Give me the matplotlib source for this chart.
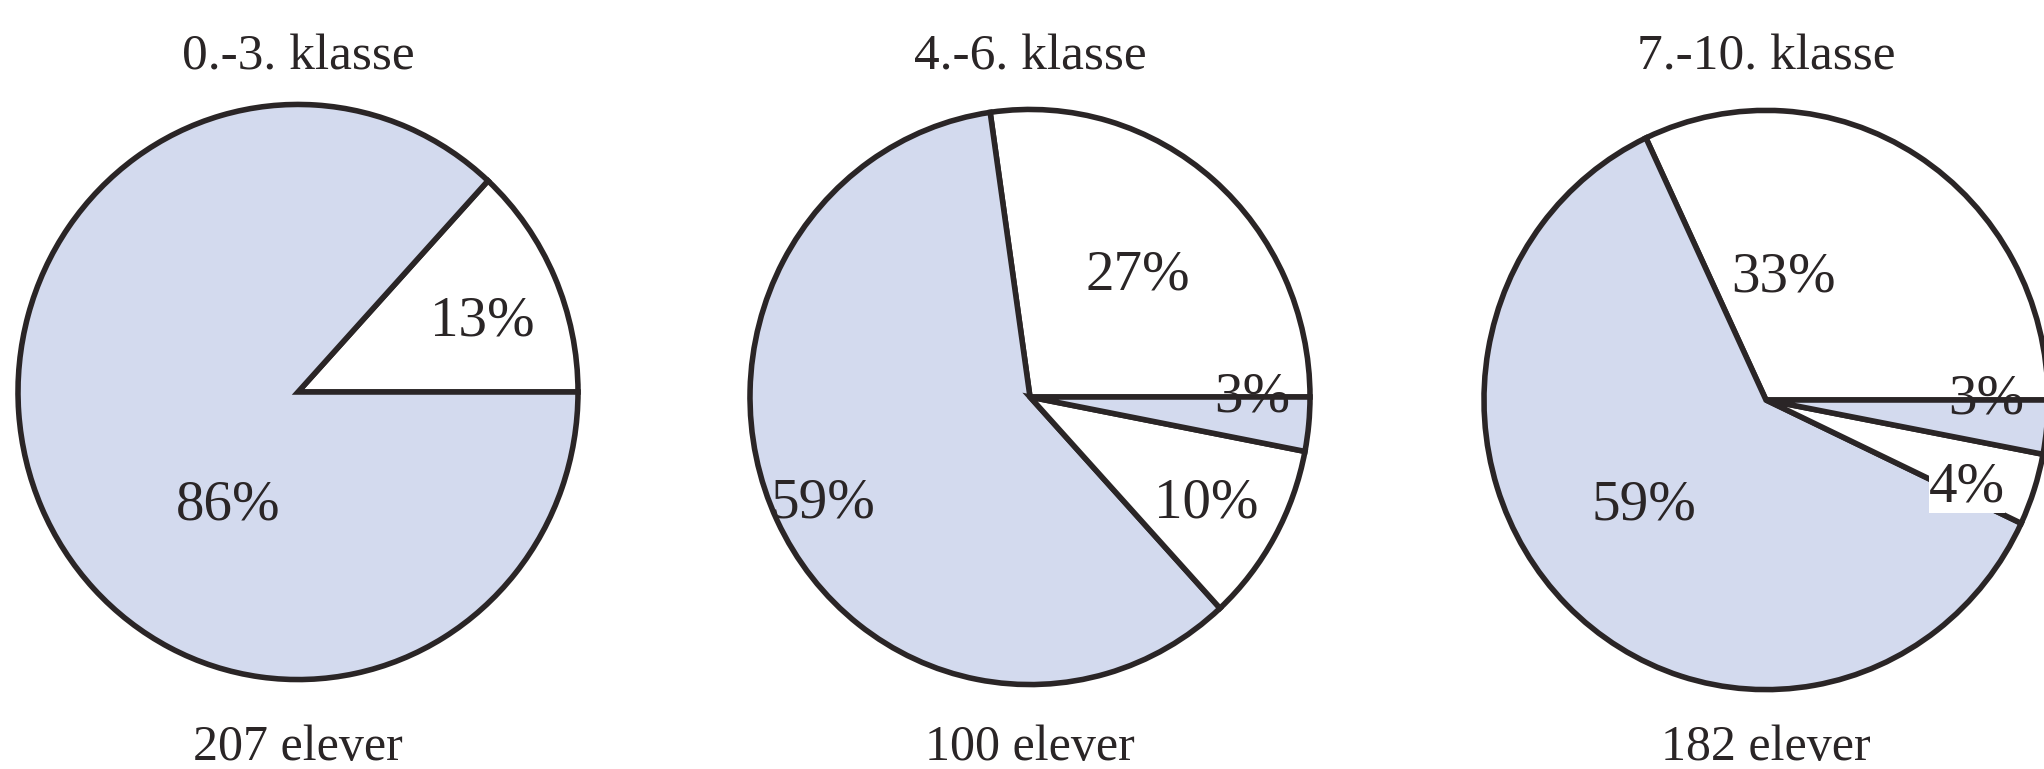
import matplotlib.pyplot as plt

# Share of pupils per answer, counter-clockwise from 3 o'clock
grades = ["0.-3. klasse", "4.-6. klasse", "7.-10. klasse"]
pupils = ["207 elever", "100 elever", "182 elever"]

shares_03 = [13, 86]
shares_46 = [27, 59, 10, 3]
shares_710 = [32, 61, 4, 3]

labels_03 = ["13%", "86%"]
labels_46 = ["27%", "59%", "10%", "3%"]
labels_710 = ["33%", "59%", "4%", "3%"]

blue = "#d3daee"
white = "#ffffff"
edge = "#2a2526"
ink = "#2a2526"

plt.rcParams["font.family"] = ["Liberation Serif", "DejaVu Serif"]

# the scanned pies are slightly taller than wide
sy = 1.027

fig = plt.figure(figsize=(20.44, 7.69), dpi=100)
ax = fig.add_axes([0, 0, 1, 1])

# layout of each pie (pixel coords, y up) and where its labels sit
pies = [
    dict(shares=shares_03, labels=labels_03, colors=[white, blue],
         center=(298, 377), r=280,
         offsets=[(184, 71), (-70, -113)]),
    dict(shares=shares_46, labels=labels_46, colors=[white, blue, white, blue],
         center=(1030, 372), r=280,
         offsets=[(108, 121), (-207, -107), (176, -107), (222, 0)]),
    dict(shares=shares_710, labels=labels_710, colors=[white, blue, white, blue],
         center=(1766, 369), r=282,
         offsets=[(18, 122), (-122, -106), (201, -87), (220, 0)]),
]

for i, p in enumerate(pies):
    cx, cy = p["center"]
    ax.pie(p["shares"], colors=p["colors"], startangle=0, counterclock=True,
           center=(cx, cy / sy), radius=p["r"], frame=True,
           wedgeprops=dict(edgecolor=edge, linewidth=4.0, joinstyle="miter"))
    for lab, (dx, dy) in zip(p["labels"], p["offsets"]):
        box = None
        if lab == "4%":
            box = dict(facecolor="white", edgecolor="none", pad=0.0)
        ax.text(cx + dx, (cy + dy) / sy, lab, ha="center", va="center",
                fontsize=41, color=ink, bbox=box)
    ax.text(cx, 700 / sy, grades[i], ha="center", va="baseline",
            fontsize=37, color=ink)
    ax.text(cx, 9 / sy, pupils[i], ha="center", va="baseline",
            fontsize=36, color=ink)

ax.set_aspect("auto")
ax.set_xlim(0, 2044)
ax.set_ylim(0, 769 / sy)
ax.axis("off")

fig.savefig("out.png", dpi=100)
